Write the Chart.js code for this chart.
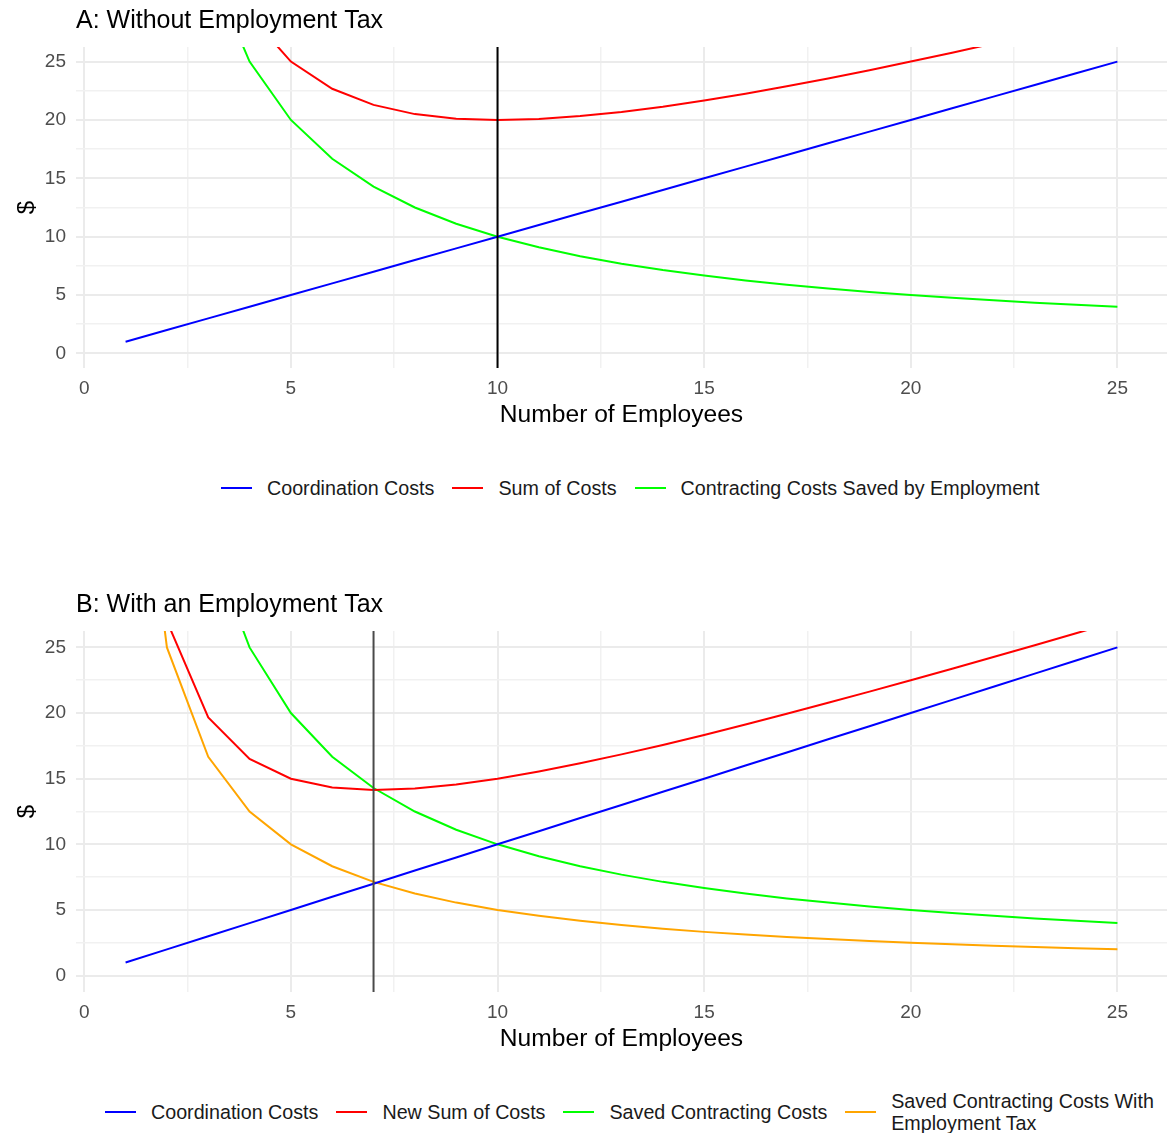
<!DOCTYPE html>
<html>
<head>
<meta charset="utf-8">
<title>Employment and the boundary of the firm</title>
<script src="https://cdn.jsdelivr.net/npm/chart.js@4.4.1/dist/chart.umd.min.js"></script>
<style>
  html, body { margin: 0; padding: 0; background: #ffffff; }
  body { width: 1167px; height: 1133px; position: relative; overflow: hidden;
         font-family: "Liberation Sans", Arial, Helvetica, sans-serif; }
  .panel { position: absolute; left: 0; width: 1167px; }
  .legend { position: absolute; display: flex; align-items: center; white-space: nowrap;
            font-size: 19.7px; color: #1a1a1a; }
  .legend .item { display: flex; align-items: center; margin-right: 18px; }
  .legend .key { width: 31px; height: 2px; margin-right: 15px; flex: none; }
  .legend .label { line-height: 22px; }
</style>
</head>
<body>
<div class="panel" style="top:0;height:445px;"><canvas id="chartA" width="1167" height="445"></canvas></div>
<div class="legend" id="legendA" style="left:221px;top:477px;height:22px;"></div>
<div class="panel" style="top:580px;height:480px;"><canvas id="chartB" width="1167" height="480"></canvas></div>
<div class="legend" id="legendB" style="left:105px;top:1090px;height:44px;"></div>

<script>
// Number of employees in the firm
const employees = [1, 2, 3, 4, 5, 6, 7, 8, 9, 10, 11, 12, 13, 14, 15, 16, 17, 18, 19, 20, 21, 22, 23, 24, 25];

// Cost of coordinating the employees
const coordinationCosts = [1, 2, 3, 4, 5, 6, 7, 8, 9, 10, 11, 12, 13, 14, 15, 16, 17, 18, 19, 20, 21, 22, 23, 24, 25];

// Contracting costs saved by employing rather than contracting
const contractingSaved = [100, 50, 33.33, 25, 20, 16.67, 14.29, 12.5, 11.11, 10, 9.09, 8.33, 7.69, 7.14, 6.67,
                          6.25, 5.88, 5.56, 5.26, 5, 4.76, 4.55, 4.35, 4.17, 4];

// Sum of both costs without the tax
const sumOfCosts = [101, 52, 36.33, 29, 25, 22.67, 21.29, 20.5, 20.11, 20, 20.09, 20.33, 20.69, 21.14, 21.67,
                    22.25, 22.88, 23.56, 24.26, 25, 25.76, 26.55, 27.35, 28.17, 29];

// Contracting costs saved once employment is taxed
const savedWithTax = [50, 25, 16.67, 12.5, 10, 8.33, 7.14, 6.25, 5.56, 5, 4.55, 4.17, 3.85, 3.57, 3.33,
                      3.13, 2.94, 2.78, 2.63, 2.5, 2.38, 2.27, 2.17, 2.08, 2];

// Sum of costs with the tax
const newSumOfCosts = [51, 27, 19.67, 16.5, 15, 14.33, 14.14, 14.25, 14.56, 15, 15.55, 16.17, 16.85, 17.57, 18.33,
                       19.13, 19.94, 20.78, 21.63, 22.5, 23.38, 24.27, 25.17, 26.08, 27];

// Firm size where the curves cross
const optimumA = 10;
const optimumB = 7;

// Axis breaks: labelled majors and unlabelled minors
const xMajorTicks = [0, 5, 10, 15, 20, 25];
const yMajorTicks = [0, 5, 10, 15, 20, 25];
const gridBreaks = [0, 2.5, 5, 7.5, 10, 12.5, 15, 17.5, 20, 22.5, 25];

const titleA = 'A: Without Employment Tax';
const titleB = 'B: With an Employment Tax';
const xTitle = 'Number of Employees';
const yTitle = '$';

const seriesA = [
  { label: 'Coordination Costs', values: coordinationCosts, color: '#0000ff' },
  { label: 'Sum of Costs', values: sumOfCosts, color: '#ff0000' },
  { label: 'Contracting Costs Saved by Employment', values: contractingSaved, color: '#00ff00' }
];
const seriesB = [
  { label: 'Coordination Costs', values: coordinationCosts, color: '#0000ff' },
  { label: 'New Sum of Costs', values: newSumOfCosts, color: '#ff0000' },
  { label: 'Saved Contracting Costs', values: contractingSaved, color: '#00ff00' },
  { label: ['Saved Contracting Costs With', 'Employment Tax'], values: savedWithTax, color: '#ffa500' }
];

const FONT = '"Liberation Sans", Arial, Helvetica, sans-serif';

// Vertical reference line at the optimum and the panel title
const panelDecor = {
  id: 'panelDecor',
  afterDatasetsDraw(chart, args, opts) {
    const { ctx, chartArea } = chart;
    const x = chart.scales.x.getPixelForValue(opts.vline);
    ctx.save();
    ctx.strokeStyle = opts.vlineColor;
    ctx.lineWidth = 2;
    ctx.beginPath();
    ctx.moveTo(x, chartArea.top);
    ctx.lineTo(x, chartArea.bottom);
    ctx.stroke();
    ctx.restore();
  },
  afterDraw(chart, args, opts) {
    const { ctx, chartArea } = chart;
    ctx.save();
    ctx.font = '25px ' + FONT;
    ctx.fillStyle = '#000000';
    ctx.textBaseline = 'middle';
    ctx.textAlign = 'left';
    ctx.fillText(opts.title, chartArea.left, opts.titleY);
    ctx.restore();
  }
};

function gridColor(c) {
  return (c.tick && c.tick.value % 5 === 0) ? '#ebebeb' : '#f1f1f1';
}
function gridWidth(c) {
  return (c.tick && c.tick.value % 5 === 0) ? 2 : 1.5;
}

function makeChart(canvasId, series, vline, title, frame) {
  return new Chart(document.getElementById(canvasId), {
    type: 'line',
    data: {
      datasets: series.map(s => ({
        label: Array.isArray(s.label) ? s.label.join(' ') : s.label,
        data: employees.map((x, i) => ({ x: x, y: s.values[i] })),
        borderColor: s.color,
        backgroundColor: s.color,
        borderWidth: 2,
        pointRadius: 0,
        tension: 0,
        clip: 0
      }))
    },
    options: {
      responsive: false,
      animation: false,
      events: [],
      layout: { padding: { top: frame.top, bottom: frame.bottom, left: 0, right: 0 } },
      plugins: {
        legend: { display: false },
        tooltip: { enabled: false },
        panelDecor: { vline: vline, vlineColor: frame.vlineColor, title: title, titleY: frame.titleY }
      },
      scales: {
        x: {
          type: 'linear',
          min: -0.2,
          max: 26.2,
          afterBuildTicks(scale) { scale.ticks = gridBreaks.map(v => ({ value: v })); },
          afterFit(scale) { scale.height = 62.4; },
          border: { display: false },
          grid: { color: gridColor, lineWidth: gridWidth, drawTicks: false },
          ticks: {
            autoSkip: false, maxRotation: 0, padding: 9,
            color: '#4d4d4d', font: { family: FONT, size: 19 },
            callback: v => xMajorTicks.includes(v) ? String(v) : ''
          },
          title: { display: true, text: xTitle, color: '#000000', padding: { top: 0, bottom: 0 },
                   font: { family: FONT, size: 24.6 } }
        },
        y: {
          type: 'linear',
          min: -1.25,
          max: 26.25,
          afterBuildTicks(scale) { scale.ticks = gridBreaks.map(v => ({ value: v })); },
          afterFit(scale) { scale.width = 76; },
          border: { display: false },
          grid: { color: gridColor, lineWidth: gridWidth, drawTicks: false },
          ticks: {
            autoSkip: false, padding: 10,
            color: '#4d4d4d', font: { family: FONT, size: 19 },
            callback: v => yMajorTicks.includes(v) ? String(v) : ''
          },
          title: { display: true, text: yTitle, color: '#000000', padding: { top: 12.6, bottom: 0 },
                   font: { family: FONT, size: 24 } }
        }
      }
    },
    plugins: [panelDecor]
  });
}

function buildLegend(el, series) {
  series.forEach(s => {
    const item = document.createElement('div');
    item.className = 'item';
    const key = document.createElement('div');
    key.className = 'key';
    key.style.background = s.color;
    const label = document.createElement('div');
    label.className = 'label';
    (Array.isArray(s.label) ? s.label : [s.label]).forEach((line, i) => {
      if (i > 0) label.appendChild(document.createElement('br'));
      label.appendChild(document.createTextNode(line));
    });
    item.appendChild(key);
    item.appendChild(label);
    el.appendChild(item);
  });
}

makeChart('chartA', seriesA, optimumA, titleA, { top: 47, bottom: 14.6, titleY: 21, vlineColor: '#000000' });
makeChart('chartB', seriesB, optimumB, titleB, { top: 51, bottom: 5.6, titleY: 25, vlineColor: '#4a4a4a' });
buildLegend(document.getElementById('legendA'), seriesA);
buildLegend(document.getElementById('legendB'), seriesB);
</script>
</body>
</html>
